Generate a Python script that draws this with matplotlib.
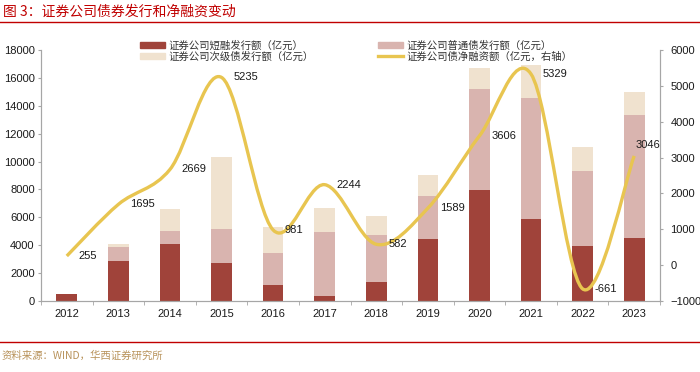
import matplotlib
matplotlib.use("Agg")
import matplotlib.pyplot as plt
from matplotlib.path import Path
from matplotlib.patches import PathPatch
from matplotlib.lines import Line2D
import numpy as np

plt.rcParams["font.family"] = ["Liberation Sans", "Noto Sans CJK SC"]

years = ["2012", "2013", "2014", "2015", "2016", "2017",
         "2018", "2019", "2020", "2021", "2022", "2023"]
short_term = [500, 2890, 4090, 2725, 1150, 360, 1390, 4450, 7960, 5900, 3970, 4490]
ordinary = [0, 960, 930, 2415, 2290, 4610, 3340, 3110, 7220, 8630, 5330, 8820]
subordinated = [0, 240, 1580, 5190, 1840, 1700, 1390, 1450, 1530, 2370, 1770, 1680]
net_financing = [255, 1695, 2669, 5235, 981, 2244, 582, 1589, 3606, 5329, -661, 3046]

c_short = "#a0433a"
c_ord = "#d9b4af"
c_sub = "#f0e2cf"
c_line = "#e8c550"
c_axis = "#a6a6a6"

fig = plt.figure(figsize=(7, 3.72), dpi=100)
ax = fig.add_axes([41 / 700, 1 - 301 / 372, 619 / 700, 251 / 372])
ax2 = ax.twinx()

x = np.arange(len(years))
w = 0.4
ax.bar(x, short_term, w, color=c_short)
ax.bar(x, ordinary, w, bottom=short_term, color=c_ord)
bottom2 = np.array(short_term) + np.array(ordinary)
ax.bar(x, subordinated, w, bottom=bottom2, color=c_sub)

ax.set_xlim(-0.5, 11.5)
ax.set_ylim(0, 18000)
ax.set_yticks(range(0, 18001, 2000))
ax2.set_ylim(-1000, 6000)
ax2.set_yticks(range(-1000, 6001, 1000))

# smoothed line (Catmull-Rom bezier, computed in pixel-like space)
sx = 619 / 12
sy = 251 / 7000
px = x * sx
py = np.array(net_financing) * sy
verts = [(px[0], py[0])]
codes = [Path.MOVETO]
n = len(px)
for i in range(n - 1):
    p0 = (px[max(i - 1, 0)], py[max(i - 1, 0)])
    p1 = (px[i], py[i])
    p2 = (px[i + 1], py[i + 1])
    p3 = (px[min(i + 2, n - 1)], py[min(i + 2, n - 1)])
    c1 = (p1[0] + (p2[0] - p0[0]) / 6, p1[1] + (p2[1] - p0[1]) / 6)
    c2 = (p2[0] - (p3[0] - p1[0]) / 6, p2[1] - (p3[1] - p1[1]) / 6)
    verts += [c1, c2, p2]
    codes += [Path.CURVE4] * 3
verts = [(vx / sx, vy / sy) for vx, vy in verts]
ax2.add_patch(PathPatch(Path(verts, codes), facecolor="none", edgecolor=c_line,
                        lw=2.4, capstyle="butt", zorder=3))

for xi, v in zip(x, net_financing):
    off = (1, 8) if xi == 11 else (8.5, 0)
    ax2.annotate(str(v), (xi, v), xytext=off, textcoords="offset points",
                 ha="left", va="center", fontsize=8, color="#1a1a1a")

for a in (ax, ax2):
    a.spines["top"].set_visible(False)
    for s in ("left", "right", "bottom"):
        a.spines[s].set_color(c_axis)
    a.tick_params(axis="y", colors=c_axis, labelcolor="#1a1a1a", labelsize=8,
                  length=2.5, pad=2)
ax2.tick_params(axis="y", pad=5)
ax.set_xticks(x)
ax.set_xticklabels(years)
ax.set_xticks(np.arange(-0.5, 12, 1), minor=True)
ax.tick_params(axis="x", which="major", length=0, labelsize=8, pad=6, labelcolor="#1a1a1a")
ax.tick_params(axis="x", which="minor", length=3, colors=c_axis)
ax.set_zorder(ax2.get_zorder() - 1)
ax2.patch.set_visible(False)

handles = [
    plt.Rectangle((0, 0), 1, 1, color=c_short),
    plt.Rectangle((0, 0), 1, 1, color=c_sub),
    plt.Rectangle((0, 0), 1, 1, color=c_ord),
    Line2D([0], [0], color=c_line, lw=2.4),
]
labels = ["证券公司短融发行额（亿元）", "证券公司次级债发行额（亿元）",
          "证券公司普通债发行额（亿元）", "证券公司债净融资额（亿元，右轴）"]
fig.legend(handles, labels, ncol=2, loc="upper left", bbox_to_anchor=(135 / 700, 1 - 35 / 372),
           frameon=False, handlelength=2.4, handleheight=0.55, borderpad=0,
           columnspacing=6.2, labelspacing=0.1, handletextpad=0.3,
           prop={"family": ["Noto Sans CJK SC"], "size": 7.5}, labelcolor="#333333")

fig.text(3 / 700, 1 - 12 / 372, "图 3：证券公司债券发行和净融资变动", color="#c00000",
         fontsize=10, va="center", ha="left", family=["Noto Sans CJK SC"])
fig.add_artist(Line2D([0, 1], [1 - 22 / 372] * 2, color="#c00000", lw=1))
fig.add_artist(Line2D([0, 1], [1 - 342 / 372] * 2, color="#c00000", lw=1))
fig.text(2 / 700, 1 - 356 / 372, "资料来源：WIND，华西证券研究所", color="#b8925a",
         fontsize=7.5, va="center", ha="left", family=["Noto Sans CJK SC"])

fig.savefig("out.png", dpi=100)
